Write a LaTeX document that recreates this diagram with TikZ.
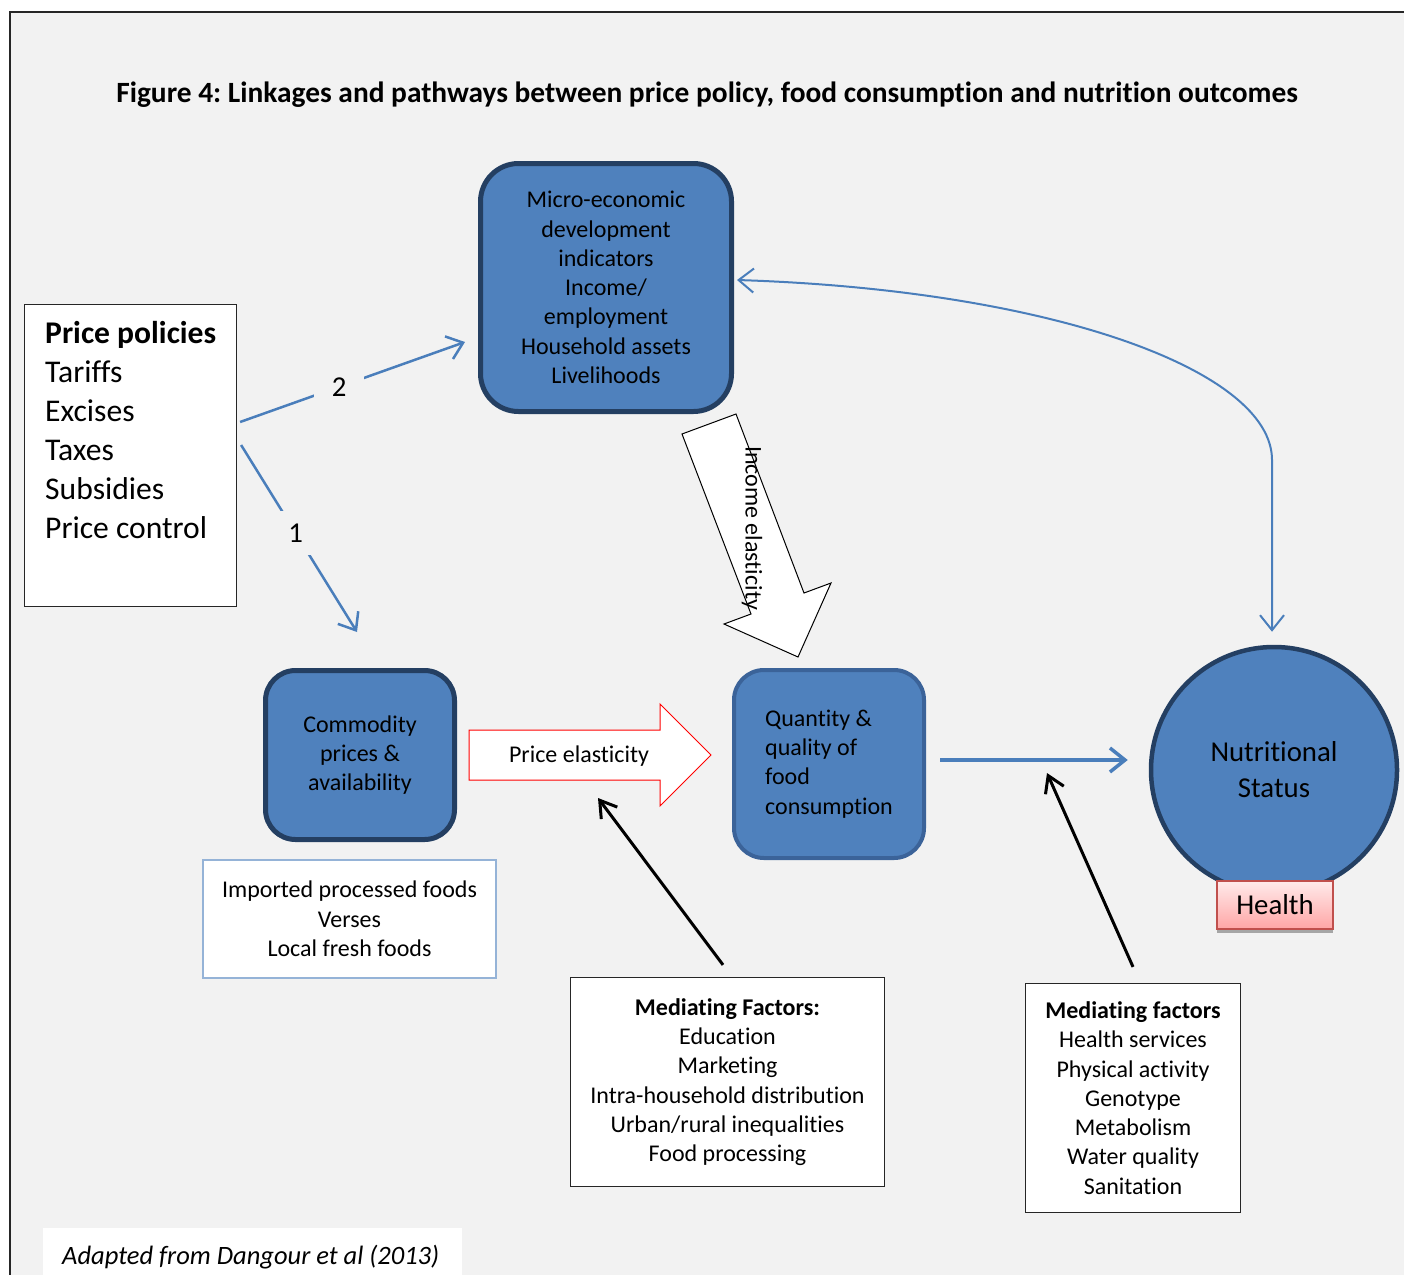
\documentclass[tikz,border=0pt]{standalone}
\usepackage{fontspec}
\setmainfont{Carlito}[Ligatures=NoCommon]
\usetikzlibrary{arrows.meta, positioning, shadows}

\definecolor{panel}{HTML}{F2F2F2}
\definecolor{boxblue}{HTML}{4F81BD}
\definecolor{boxedge}{HTML}{243F62}
\definecolor{softedge}{HTML}{3B6399}
\definecolor{lineblue}{HTML}{4A7EBB}
\definecolor{paleblue}{HTML}{95B3D7}
\definecolor{healthedge}{HTML}{C0504D}

\newcommand{\bodyfont}{\fontsize{24}{29.3}\selectfont}

\tikzstyle{bluebox} = [rectangle, rounded corners=38pt, draw=boxedge, line width=5pt, fill=boxblue, align=center, font=\bodyfont]
\tikzstyle{factorbox} = [rectangle, draw=black!85, line width=1.2pt, fill=white, align=center, font=\bodyfont]
\tikzstyle{healthbox} = [rectangle, draw=healthedge, line width=2pt, top color=red!8, bottom color=red!35, font=\fontsize{28.8}{36}\selectfont, drop shadow={shadow xshift=0pt, shadow yshift=-4pt, fill=gray!70, opacity=1}]
\tikzstyle{bluearrow} = [line width=2.5pt, draw=lineblue, ->, >={Straight Barb[length=15pt,width=24pt]}]
\tikzstyle{blackarrow} = [line width=3pt, ->, >={Straight Barb[length=16pt,width=20pt]}]
\tikzstyle{gap} = [fill=panel, font=\fontsize{28.8}{34}\selectfont]

\begin{document}
\frenchspacing
\begin{tikzpicture}[x=1pt, y=-1pt]
        \useasboundingbox (0,0) rectangle (1404,1274);
        \fill [white] (0,0) rectangle (1404,1274);
        \filldraw [fill=panel, draw=black!85, line width=2pt] (1430,12) -- (10,12) -- (10,1290) -- (1430,1290) -- cycle;

        \node (title) [font=\fontsize{29.4}{34}\selectfont\bfseries] at (707,95) {Figure 4: Linkages and pathways between price policy, food consumption and nutrition outcomes};

        \node (policies) [draw=black!85, line width=1.2pt, fill=white, minimum width=212pt, minimum height=302pt] at (130.5,455.5) {};
        \node (policylist) [anchor=north west, inner sep=0pt, align=left, font=\fontsize{31.6}{39}\selectfont] at (45,321) {\textbf{Price policies}\\Tariffs\\Excises\\Taxes\\Subsidies\\Price control};

        \node (micro) [bluebox, minimum width=251pt, minimum height=248pt] at (606,287.5) {Micro-economic\\development\\indicators\\Income/\\employment\\Household assets\\Livelihoods};
        \node (comm) [bluebox, rounded corners=30pt, minimum width=189pt, minimum height=169pt] at (360,755) {Commodity\\prices \&\\availability};
        \node (qty) [bluebox, rounded corners=30pt, draw=softedge, line width=4pt, align=left, minimum width=190pt, minimum height=188pt] at (829,764) {Quantity \&\\quality of\\food\\consumption};
        \node (nut) [circle, draw=boxedge, line width=4.5pt, fill=boxblue, align=center, minimum size=246pt, font=\fontsize{28.8}{36}\selectfont] at (1274,770) {Nutritional\\Status};
        \node (health) [healthbox, minimum width=116pt, minimum height=48pt] at (1275,905) {Health};

        \node (imported) [factorbox, draw=paleblue, line width=1.5pt, minimum width=293pt, minimum height=118pt, below=17pt of comm, xshift=-10.5pt] {Imported processed foods\\Verses\\Local fresh foods};
        \node (med1) [factorbox, minimum width=314pt, minimum height=209pt] at (727.5,1082) {\textbf{Mediating Factors:}\\Education\\Marketing\\Intra-household distribution\\Urban/rural inequalities\\Food processing};
        \node (med2) [factorbox, minimum width=215pt, minimum height=229pt] at (1133,1098) {\textbf{Mediating factors}\\Health services\\Physical activity\\Genotype\\Metabolism\\Water quality\\Sanitation};
        \node (adapted) [anchor=north west, fill=white, minimum width=419pt, minimum height=62pt] at (43,1228) {};
        \node (adaptedtext) [anchor=west, inner sep=0pt, font=\fontsize{26.5}{31}\selectfont\itshape] at (62,1257) {Adapted from Dangour et al (2013)};

        \filldraw [fill=white, draw=red, line width=1pt] (469,730) -- (660,730) -- (660,704) -- (711,755) -- (660,806) -- (660,780) -- (469,780) -- cycle;
        \node (price) [font=\bodyfont] at (579,756) {Price elasticity};
        \filldraw [fill=white, draw=black, line width=1pt] (682,434) -- (736,414) -- (804,593) -- (831,583) -- (798,657) -- (724,624) -- (751,614) -- cycle;
        \node (income) [font=\bodyfont, rotate=-90] at (752,528) {Income elasticity};

        \coordinate (pricefocus) at (598,798);
        \coordinate (linkfocus) at (1047,773);

        \draw [bluearrow] ([xshift=3pt,yshift=33.5pt]policies.east) -- node[gap, pos=0.44, inner xsep=18pt, inner ysep=6pt] {2} ([xshift=-13pt,yshift=-54.5pt]micro.west);
        \draw [bluearrow] ([xshift=4pt,yshift=10.5pt]policies.east) -- node[gap, pos=0.47, inner xsep=9pt, inner ysep=13pt] {1} ([xshift=-3pt,yshift=36pt]comm.north);
        \draw [bluearrow, <->, line width=2pt] ([xshift=3pt,yshift=7.5pt]micro.east) .. controls (1050,290) and (1272,370) .. (1272,460) -- ([xshift=-2pt,yshift=13pt]nut.north);
        \draw [bluearrow, line width=3.5pt] ([xshift=14pt,yshift=4pt]qty.east) -- ([xshift=-21pt,yshift=10pt]nut.west);
        \draw [blackarrow] ([xshift=-4.5pt,yshift=12pt]med1.north) -- (pricefocus);
        \draw [blackarrow] ([yshift=16pt]med2.north) -- (linkfocus);
\end{tikzpicture}
\end{document}
